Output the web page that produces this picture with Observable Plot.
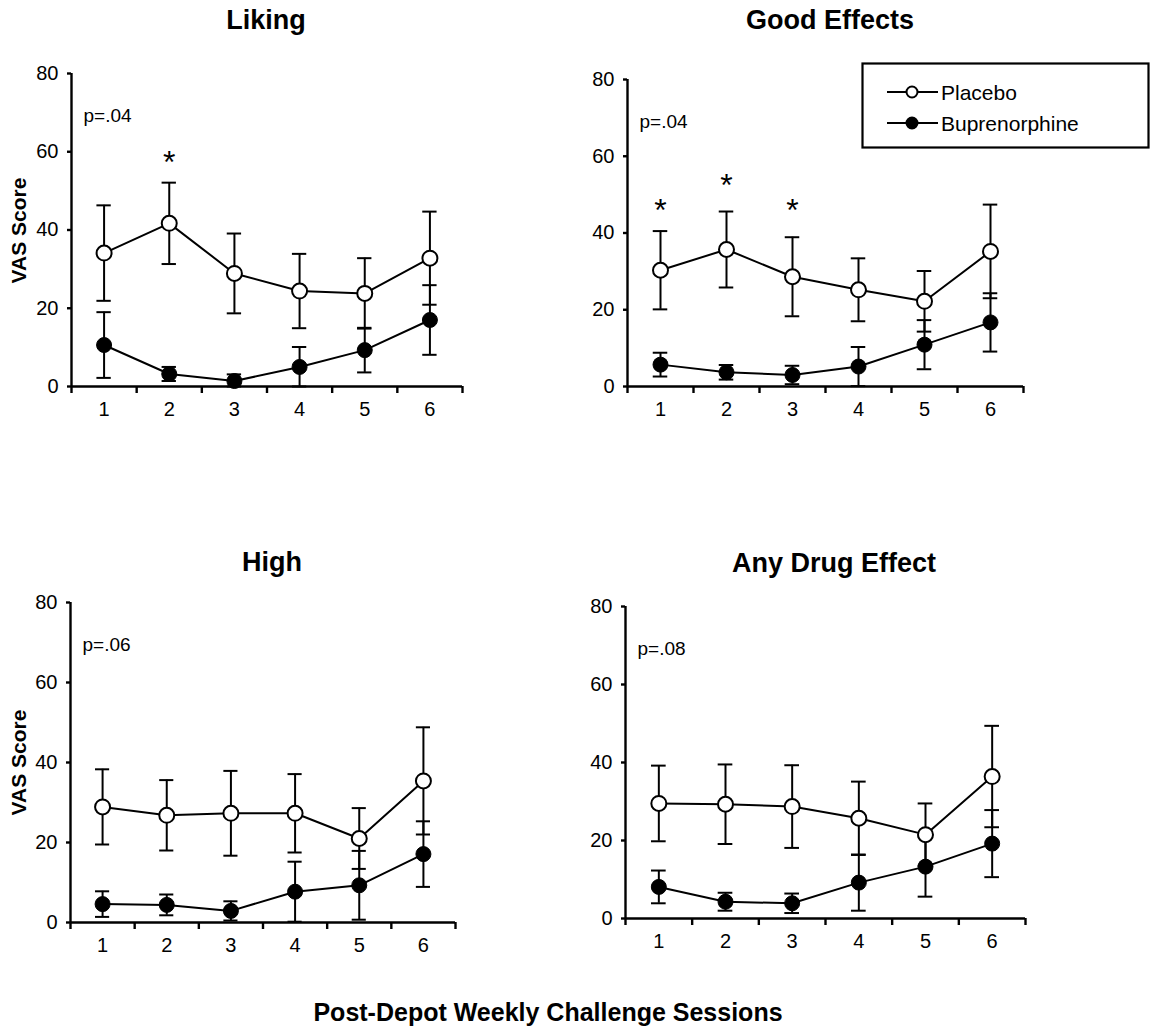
<!DOCTYPE html>
<html><head><meta charset="utf-8">
<script src="https://cdn.jsdelivr.net/npm/d3@7"></script>
<script src="https://cdn.jsdelivr.net/npm/@observablehq/plot@0.6"></script>
<style>
body{margin:0;background:#fff;}
#root{position:relative;width:1150px;height:1028px;font-family:"Liberation Sans",Arial,sans-serif;color:#000;overflow:hidden;background:#fff}
.abs{position:absolute}
.title{font-weight:bold;font-size:27px;line-height:27px;text-align:center;width:400px;white-space:nowrap}
.vas{font-weight:bold;font-size:21px;line-height:21px;text-align:center;width:200px;white-space:nowrap;transform:rotate(-90deg);transform-origin:50% 50%}
</style></head><body><div id="root"></div>
<script>
// ---- data (VAS score means and SEM) ----
const sessions = [1, 2, 3, 4, 5, 6];
const yTicks = [0, 20, 40, 60, 80];
const groups = ["Placebo", "Buprenorphine"];
const panelTitles = ["Liking", "Good Effects", "High", "Any Drug Effect"];
const pValues = ["p=.04", "p=.04", "p=.06", "p=.08"];
const yLabel = "VAS Score";
const xLabel = "Post-Depot Weekly Challenge Sessions";

const likingPlacebo    = [34.1, 41.7, 28.9, 24.4, 23.8, 32.8];
const likingPlaceboSem = [12.2, 10.4, 10.2, 9.5, 9.0, 11.9];
const likingBup        = [10.6, 3.2, 1.4, 5.0, 9.3, 17.0];
const likingBupSem     = [8.4, 1.8, 1.7, 5.1, 5.7, 8.9];
const likingStars      = [{session: 2, y: 58}];

const goodPlacebo    = [30.3, 35.7, 28.6, 25.2, 22.2, 35.2];
const goodPlaceboSem = [10.2, 9.9, 10.3, 8.2, 7.9, 12.2];
const goodBup        = [5.7, 3.7, 3.0, 5.2, 10.9, 16.7];
const goodBupSem     = [3.1, 1.9, 2.4, 5.1, 6.4, 7.6];
const goodStars      = [{session: 1, y: 46.5}, {session: 2, y: 53}, {session: 3, y: 46.5}];

const highPlacebo    = [28.9, 26.8, 27.3, 27.3, 21.0, 35.4];
const highPlaceboSem = [9.4, 8.8, 10.6, 9.8, 7.6, 13.4];
const highBup        = [4.6, 4.4, 2.9, 7.7, 9.3, 17.1];
const highBupSem     = [3.2, 2.6, 2.4, 7.5, 8.6, 8.2];
const highStars      = [];

const anyPlacebo    = [29.5, 29.3, 28.7, 25.7, 21.5, 36.4];
const anyPlaceboSem = [9.7, 10.2, 10.6, 9.4, 8.0, 13.0];
const anyBup        = [8.1, 4.3, 3.9, 9.2, 13.3, 19.2];
const anyBupSem     = [4.2, 2.3, 2.5, 7.2, 7.7, 8.6];
const anyStars      = [];

// ---- layout (pixels) ----
const FONT = "'Liberation Sans', Arial, Helvetica, sans-serif";
const layouts = [
  {left: 0,   top: 40,  width: 575, mL: 71, mR: 113, mT: 33, y0: 386, vas: true,  title: [266, 20]},
  {left: 555, top: 40,  width: 595, mL: 72, mR: 127, mT: 39, y0: 386, vas: false, title: [830, 20]},
  {left: 0,   top: 570, width: 575, mL: 70, mR: 120, mT: 32, y0: 922, vas: true,  title: [272, 562]},
  {left: 555, top: 570, width: 595, mL: 70, mR: 125, mT: 36, y0: 918, vas: false, title: [834, 563]}
];
const panelData = [
  [likingPlacebo, likingPlaceboSem, likingBup, likingBupSem, likingStars],
  [goodPlacebo, goodPlaceboSem, goodBup, goodBupSem, goodStars],
  [highPlacebo, highPlaceboSem, highBup, highBupSem, highStars],
  [anyPlacebo, anyPlaceboSem, anyBup, anyBupSem, anyStars]
];

const root = document.getElementById("root");
const boundaries = d3.range(sessions.length + 1).map(i => sessions[0] - 0.5 + i);

function makePanel(k) {
  const L = layouts[k];
  const [pm, ps, bm, bs, stars] = panelData[k];
  const rows = [];
  sessions.forEach((s, i) => rows.push({session: s, group: groups[0], mean: pm[i], sem: ps[i]}));
  sessions.forEach((s, i) => rows.push({session: s, group: groups[1], mean: bm[i], sem: bs[i]}));
  const lo = d => Math.max(0, d.mean - d.sem);
  const hi = d => d.mean + d.sem;
  const capW = 0.11;
  const mB = 50;
  const height = L.y0 - L.top + mB;
  const sw = 2;
  const marks = [
    Plot.ruleX(rows, {x: "session", y1: lo, y2: hi, stroke: "#000", strokeWidth: sw}),
    Plot.ruleY(rows, {y: hi, x1: d => d.session - capW, x2: d => d.session + capW, stroke: "#000", strokeWidth: sw}),
    Plot.ruleY(rows, {y: lo, x1: d => d.session - capW, x2: d => d.session + capW, stroke: "#000", strokeWidth: sw}),
    Plot.line(rows, {x: "session", y: "mean", z: "group", stroke: "#000", strokeWidth: sw}),
    Plot.ruleY([0], {stroke: "#000", strokeWidth: 2.4}),
    Plot.ruleX([boundaries[0]], {stroke: "#000", strokeWidth: 2.4}),
    Plot.dot(rows.filter(d => d.group === groups[0]), {x: "session", y: "mean", r: 7.5, fill: "#fff", stroke: "#000", strokeWidth: 2}),
    Plot.dot(rows.filter(d => d.group === groups[1]), {x: "session", y: "mean", r: 7.5, fill: "#000", stroke: "#000", strokeWidth: 1}),
    Plot.axisY({ticks: yTicks, tickSize: 4, tickPadding: 9, label: null, tickFormat: d => String(d), strokeWidth: 2.4, fontSize: 20}),
    Plot.axisX({ticks: boundaries, tickSize: 7, tickFormat: () => "", label: null, strokeWidth: 2.4}),
    Plot.axisX({ticks: sessions, tickSize: 0, tickPadding: 15, label: null, tickFormat: d => String(d), fontSize: 20}),
    Plot.text(stars, {x: "session", y: "y", text: () => "*", fontSize: 32, dy: 3}),
    Plot.text([pValues[k]], {frameAnchor: "top-left", dx: 12, dy: 35, textAnchor: "start", fontSize: 19})
  ];
  const svg = Plot.plot({
    width: L.width, height,
    marginLeft: L.mL, marginRight: L.mR, marginTop: L.mT, marginBottom: mB,
    x: {domain: [boundaries[0], boundaries[boundaries.length - 1]]},
    y: {domain: [yTicks[0], yTicks[yTicks.length - 1]]},
    style: {fontFamily: FONT, fontSize: "20px", color: "#000", background: "transparent", overflow: "visible"},
    marks
  });
  svg.style.position = "absolute";
  svg.style.left = L.left + "px";
  svg.style.top = L.top + "px";
  root.appendChild(svg);

  const t = document.createElement("div");
  t.className = "abs title";
  t.textContent = panelTitles[k];
  t.style.left = (L.title[0] - 200) + "px";
  t.style.top = (L.title[1] - 13) + "px";
  root.appendChild(t);

  if (L.vas) {
    const v = document.createElement("div");
    v.className = "abs vas";
    v.textContent = yLabel;
    const cy = (L.top + L.mT + L.y0) / 2;
    v.style.left = (18 - 100) + "px";
    v.style.top = (cy - 10) + "px";
    root.appendChild(v);
  }
}
[0, 1, 2, 3].forEach(makePanel);

// legend
const lg = d3.create("svg").attr("width", 290).attr("height", 88)
  .style("position", "absolute").style("left", "861px").style("top", "62px")
  .style("font-family", FONT);
lg.append("rect").attr("x", 1.5).attr("y", 1.5).attr("width", 286).attr("height", 84)
  .attr("fill", "#fff").attr("stroke", "#000").attr("stroke-width", 2.2);
groups.forEach((g, i) => {
  const cy = 30 + i * 31;
  lg.append("line").attr("x1", 26).attr("x2", 77).attr("y1", cy).attr("y2", cy).attr("stroke", "#000").attr("stroke-width", 2);
  lg.append("circle").attr("cx", 51).attr("cy", cy).attr("r", 5.5).attr("fill", i === 0 ? "#fff" : "#000").attr("stroke", "#000").attr("stroke-width", 2);
  lg.append("text").attr("x", 80).attr("y", cy).attr("dy", "0.36em").attr("font-size", 21).text(g);
});
root.appendChild(lg.node());

// bottom label
const xl = document.createElement("div");
xl.className = "abs";
xl.style.cssText = "left:148px;width:800px;text-align:center;top:1000px;font-weight:bold;font-size:25px;line-height:25px;white-space:nowrap";
xl.textContent = xLabel;
root.appendChild(xl);
</script>
</body></html>
